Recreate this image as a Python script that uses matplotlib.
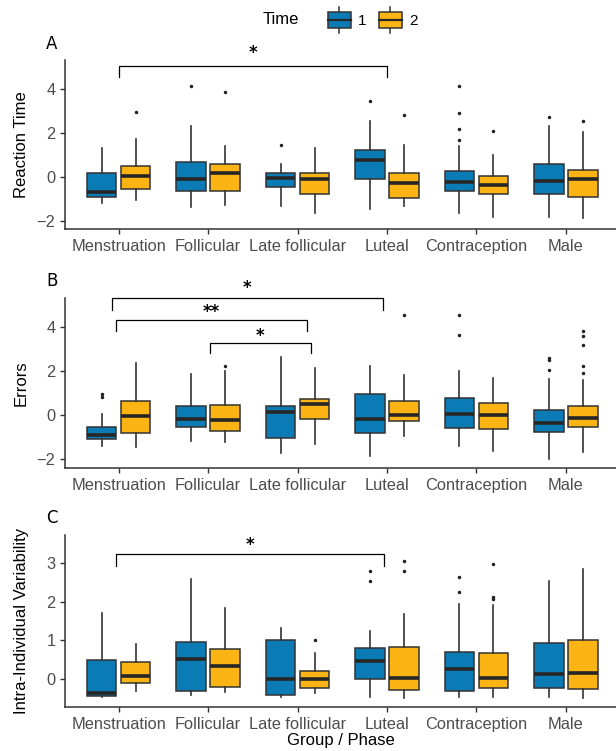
import numpy as np
import matplotlib
matplotlib.use("Agg")
import matplotlib.pyplot as plt
from matplotlib.legend_handler import HandlerBase
from matplotlib.patches import Rectangle, Patch
from matplotlib.lines import Line2D

phases = ["Menstruation", "Follicular", "Late follicular", "Luteal", "Contraception", "Male"]

# box summaries: whisker low, q1, median, q3, whisker high
rt_t1 = [[-1.18, -0.91, -0.70, 0.18, 1.32], [-1.36, -0.65, -0.08, 0.68, 2.33],
         [-1.33, -0.45, -0.06, 0.18, 0.59], [-1.45, -0.08, 0.76, 1.21, 2.56],
         [-1.64, -0.65, -0.21, 0.26, 1.39], [-1.82, -0.77, -0.20, 0.59, 2.33]]
rt_t1_out = [[], [4.12], [1.44], [3.44], [4.12, 2.91, 2.18, 1.67], [2.71]]
rt_t2 = [[-1.03, -0.55, 0.06, 0.52, 1.73], [-1.29, -0.65, 0.18, 0.58, 1.42],
         [-1.64, -0.76, -0.08, 0.18, 1.32], [-1.30, -0.94, -0.27, 0.18, 1.47],
         [-1.82, -0.77, -0.35, 0.03, 1.00], [-1.86, -0.92, -0.09, 0.33, 2.03]]
rt_t2_out = [[2.94], [3.85], [], [2.79], [2.08], [2.53]]

err_t1 = [[-1.39, -1.11, -0.90, -0.53, 0.03], [-1.18, -0.56, -0.18, 0.42, 1.85],
          [-1.71, -1.06, 0.11, 0.42, 2.62], [-1.86, -0.80, -0.18, 0.95, 2.20],
          [-1.41, -0.58, 0.05, 0.76, 2.00], [-2.00, -0.79, -0.35, 0.23, 1.64]]
err_t1_out = [[0.95, 0.83], [], [], [], [4.53, 3.62], [2.58, 2.47, 2.05]]
err_t2 = [[-1.44, -0.80, -0.03, 0.65, 2.35], [-1.21, -0.73, -0.23, 0.45, 2.00],
          [-1.33, -0.18, 0.50, 0.73, 2.12], [-0.95, -0.27, 0.00, 0.61, 1.79],
          [-1.62, -0.62, 0.00, 0.53, 1.67], [-1.70, -0.53, -0.12, 0.38, 1.60]]
err_t2_out = [[], [2.23], [], [4.53], [], [3.80, 3.57, 3.19, 2.23, 1.90]]

iiv_t1 = [[-0.46, -0.44, -0.37, 0.49, 1.71], [-0.42, -0.32, 0.53, 0.95, 2.58],
          [-0.47, -0.40, 0.00, 1.00, 1.32], [-0.46, 0.00, 0.47, 0.81, 1.25],
          [-0.47, -0.31, 0.25, 0.69, 1.93], [-0.46, -0.24, 0.12, 0.92, 2.53]]
iiv_t1_out = [[], [], [], [2.79, 2.53], [2.64, 2.24], []]
iiv_t2 = [[-0.30, -0.09, 0.09, 0.44, 0.90], [-0.34, -0.20, 0.34, 0.77, 1.84],
          [-0.37, -0.22, -0.01, 0.21, 0.68], [-0.48, -0.28, 0.03, 0.83, 1.67],
          [-0.46, -0.24, 0.04, 0.68, 1.91], [-0.48, -0.26, 0.17, 1.01, 2.84]]
iiv_t2_out = [[], [], [1.00], [3.04, 2.79], [2.96, 2.12, 2.06], []]

# significance brackets: (from, to, bar height, foot height, label, label height)
rt_sig = [(1.0, 4.0, 5.01, 4.54, "*", 5.6)]
err_sig = [(0.93, 3.95, 5.3, 4.74, "*", 5.76),
           (0.97, 3.10, 4.29, 3.79, "**", 4.65),
           (2.02, 3.15, 3.26, 2.80, "*", 3.59)]
iiv_sig = [(0.97, 3.97, 3.22, 2.91, "*", 3.46)]

blue = "#0A7BB4"
gold = "#FCB414"
edge = "#333333"

plt.rcParams["font.family"] = ["Liberation Sans", "DejaVu Sans"]

fig = plt.figure(figsize=(6.16, 7.51), dpi=100)


def stats(rows, outs):
    res = []
    for r, o in zip(rows, outs):
        res.append(dict(whislo=r[0], q1=r[1], med=r[2], q3=r[3], whishi=r[4], fliers=o))
    return res


def panel(rect, t1, t1o, t2, t2o, ylim, yticks, ylabel, sigs, letter):
    ax = fig.add_axes(rect)
    x = np.arange(1, len(phases) + 1)
    for s, pos, col in [(stats(t1, t1o), x - 0.19, blue), (stats(t2, t2o), x + 0.19, gold)]:
        ax.bxp(s, positions=pos, widths=0.33, showcaps=False, patch_artist=True,
               boxprops=dict(facecolor=col, edgecolor=edge, linewidth=1.1),
               whiskerprops=dict(color=edge, linewidth=1.2),
               medianprops=dict(color="#262626", linewidth=2.6, solid_capstyle="butt"),
               flierprops=dict(marker="o", markersize=1.5, markerfacecolor="#222222",
                               markeredgecolor="#222222"))
    for x0, x1, yb, yf, lab, yl in sigs:
        ax.plot([x0, x0, x1, x1], [yf, yb, yb, yf], color="black", lw=0.9, clip_on=False)
        ax.text((x0 + x1) / 2, yl, lab, ha="center", va="center", fontsize=12,
                fontweight="bold", family="DejaVu Sans", clip_on=False)
    ax.set_xlim(0.4, 6.56)
    ax.set_ylim(*ylim)
    ax.set_yticks(yticks)
    ax.set_xticks(x)
    ax.set_xticklabels(phases)
    for sp in ["top", "right"]:
        ax.spines[sp].set_visible(False)
    for sp in ["left", "bottom"]:
        ax.spines[sp].set_color(edge)
        ax.spines[sp].set_linewidth(1.1)
    ax.tick_params(colors=edge, labelcolor="#4D4D4D", labelsize=11.8, length=3.5, width=1)
    ax.set_ylabel(ylabel, fontsize=12, color="black")
    ax.yaxis.set_label_coords(29 / 616, rect[1] + rect[3] / 2, transform=fig.transFigure)
    fig.text(52 / 616, rect[1] + rect[3] + 0.022, letter, fontsize=12,
             family="DejaVu Sans", ha="center", va="center")
    return ax


panel([65 / 616, 0.695, 1 - 65 / 616, 0.225], rt_t1, rt_t1_out, rt_t2, rt_t2_out,
      (-2.36, 5.3), [-2, 0, 2, 4], "Reaction Time", rt_sig, "A")
panel([65 / 616, 0.3768, 1 - 65 / 616, 0.2264], err_t1, err_t1_out, err_t2, err_t2_out,
      (-2.41, 5.3), [-2, 0, 2, 4], "Errors", err_sig, "B")
axc = panel([65 / 616, 0.0586, 1 - 65 / 616, 0.229], iiv_t1, iiv_t1_out, iiv_t2, iiv_t2_out,
            (-0.72, 3.72), [0, 1, 2, 3], "Intra-Individual Variability", iiv_sig, "C")
axc.set_xlabel("Group / Phase", fontsize=12, labelpad=1)


class BoxKey(HandlerBase):
    def create_artists(self, legend, orig, xd, yd, w, h, fs, trans):
        x0, y0 = -xd, -yd
        box = Rectangle((x0, y0 + 0.18 * h), w, 0.64 * h, facecolor=orig.get_facecolor(),
                        edgecolor=edge, lw=1.1, transform=trans)
        med = Line2D([x0, x0 + w], [y0 + 0.5 * h] * 2, color="#262626", lw=1.6, transform=trans)
        lo = Line2D([x0 + w / 2] * 2, [y0, y0 + 0.18 * h], color=edge, lw=1.1, transform=trans)
        hi = Line2D([x0 + w / 2] * 2, [y0 + 0.82 * h, y0 + h], color=edge, lw=1.1, transform=trans)
        return [lo, hi, box, med]


handles = [Patch(facecolor=blue), Patch(facecolor=gold)]
fig.text(281 / 616, 1 - 20 / 751, "Time", fontsize=12, ha="center", va="center")
fig.legend(handles, ["1", "2"], handler_map={Patch: BoxKey()}, loc="center left",
           bbox_to_anchor=(314 / 616, 1 - 20 / 751), ncol=2, frameon=False,
           fontsize=11, handlelength=1.5, handleheight=2.2, handletextpad=0.5,
           columnspacing=0.8)

fig.savefig("out.png", dpi=100, facecolor="white")
